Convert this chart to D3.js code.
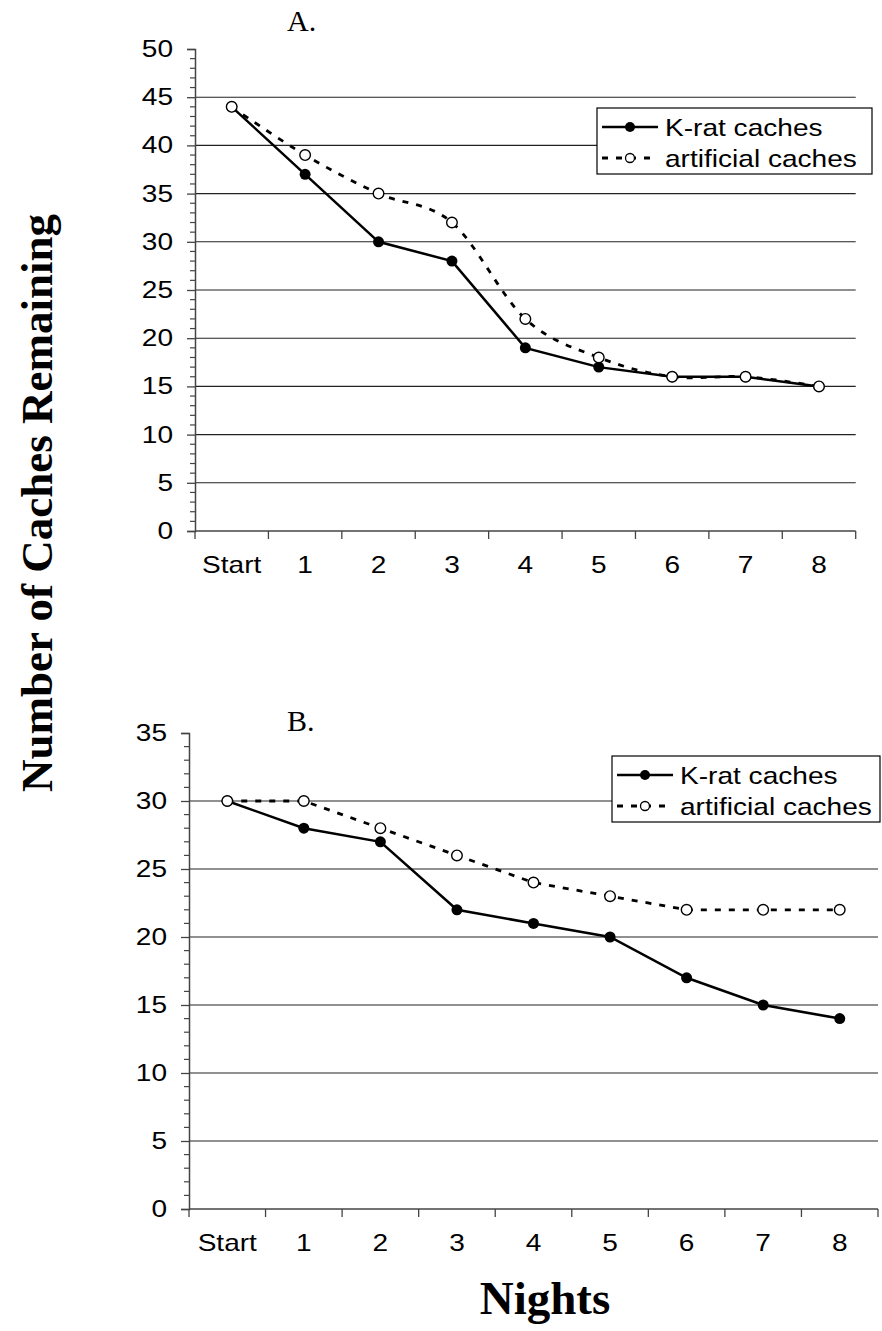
<!DOCTYPE html>
<html>
<head>
<meta charset="utf-8">
<script src="https://cdn.jsdelivr.net/npm/d3@7"></script>
<style>
  html, body { margin: 0; padding: 0; background: #fff; }
  svg { display: block; }
</style>
</head>
<body>
<svg id="chart" width="882" height="1331"></svg>
<script>
// ---------- DATA ----------
const categories = ["Start", "1", "2", "3", "4", "5", "6", "7", "8"];
const seriesNames = ["K-rat caches", "artificial caches"];

const kratA = [44, 37, 30, 28, 19, 17, 16, 16, 15];
const artificialA = [44, 39, 35, 32, 22, 18, 16, 16, 15];
const kratB = [30, 28, 27, 22, 21, 20, 17, 15, 14];
const artificialB = [30, 30, 28, 26, 24, 23, 22, 22, 22];

const yTicksA = [0, 5, 10, 15, 20, 25, 30, 35, 40, 45, 50];
const yTicksB = [0, 5, 10, 15, 20, 25, 30, 35];

const panelTitles = ["A.", "B."];
const yTitle = "Number of Caches Remaining";
const xTitle = "Nights";

// ---------- DRAW ----------
const svg = d3.select("#chart");
const SX = 1.22; // horizontal stretch of sans text in the original

function stretchedText(parent, x, y, str, size, anchor, sx) {
  const g = parent.append("g").attr("transform", `translate(${x},${y}) scale(${sx},1)`);
  g.append("text")
    .attr("x", 0).attr("y", 0)
    .attr("text-anchor", anchor)
    .attr("font-family", "Arial, 'Liberation Sans', sans-serif")
    .attr("font-size", size)
    .attr("fill", "#000")
    .text(str);
  return g;
}

function drawPanel(cfg) {
  const { left, right, top, bottom, yMax, yTicks, krat, artificial, smoothArtificial,
          title, titleX, titleY, legend } = cfg;
  const g = svg.append("g");

  const x = d3.scaleBand().domain(categories).range([left, right]).padding(0);
  const y = d3.scaleLinear().domain([0, yMax]).range([bottom, top]);

  // gridlines (major, excluding 0 and max)
  g.append("g").selectAll("line")
    .data(yTicks.filter(t => t > 0 && t < yMax))
    .join("line")
    .attr("x1", left).attr("x2", right)
    .attr("y1", d => y(d)).attr("y2", d => y(d))
    .attr("stroke", "#222").attr("stroke-width", 1.1);

  // y axis with major ticks
  const yAxis = d3.axisLeft(y).tickValues(yTicks).tickSize(8).tickFormat("");
  const ya = g.append("g").attr("transform", `translate(${left},0)`).call(yAxis);
  ya.select(".domain").attr("stroke", "#444").attr("stroke-width", 1.5);
  ya.selectAll(".tick line").attr("stroke", "#444").attr("stroke-width", 1.3);

  // minor ticks
  const minor = d3.range(0, yMax + 1).filter(v => !yTicks.includes(v));
  g.append("g").selectAll("line").data(minor).join("line")
    .attr("x1", left - 5).attr("x2", left)
    .attr("y1", d => y(d)).attr("y2", d => y(d))
    .attr("stroke", "#444").attr("stroke-width", 1.2);

  // y tick labels
  yTicks.forEach(t => {
    stretchedText(g, left - 22, y(t) + 8, String(t), 23, "end", SX);
  });

  // x axis
  const xa = g.append("g").attr("transform", `translate(0,${bottom})`);
  xa.append("line").attr("x1", left).attr("x2", right).attr("y1", 0).attr("y2", 0)
    .attr("stroke", "#444").attr("stroke-width", 1.5);
  const boundaries = categories.map(c => x(c)).concat([right]);
  xa.selectAll("line.tk").data(boundaries).join("line").attr("class", "tk")
    .attr("x1", d => d).attr("x2", d => d).attr("y1", 0).attr("y2", 8)
    .attr("stroke", "#444").attr("stroke-width", 1.3);
  categories.forEach(c => {
    stretchedText(g, x(c) + x.bandwidth() / 2, bottom + 42, c, 23, "middle", SX);
  });

  const cx = c => x(c) + x.bandwidth() / 2;

  // artificial (dashed)
  const artLine = d3.line()
    .x((d, i) => cx(categories[i])).y(d => y(d))
    .curve(smoothArtificial ? d3.curveCatmullRom.alpha(0) : d3.curveLinear);
  g.append("path").datum(artificial)
    .attr("d", artLine).attr("fill", "none")
    .attr("stroke", "#000").attr("stroke-width", 2.8)
    .attr("stroke-dasharray", "6,8");

  // krat (solid)
  const kLine = d3.line().x((d, i) => cx(categories[i])).y(d => y(d));
  g.append("path").datum(krat)
    .attr("d", kLine).attr("fill", "none")
    .attr("stroke", "#000").attr("stroke-width", 2.5);

  g.append("g").selectAll("circle").data(krat).join("circle")
    .attr("cx", (d, i) => cx(categories[i])).attr("cy", d => y(d))
    .attr("r", 5.5).attr("fill", "#000");

  g.append("g").selectAll("circle").data(artificial).join("circle")
    .attr("cx", (d, i) => cx(categories[i])).attr("cy", d => y(d))
    .attr("r", 5.3).attr("fill", "#fff").attr("stroke", "#000").attr("stroke-width", 1.4);

  // panel title
  g.append("text").attr("x", titleX).attr("y", titleY)
    .attr("font-family", "'Times New Roman', 'Liberation Serif', serif")
    .attr("font-size", 30).text(title);

  // legend
  const L = g.append("g").attr("transform", `translate(${legend.x},${legend.y})`);
  L.append("rect").attr("x", 0).attr("y", 0).attr("width", legend.w).attr("height", 66)
    .attr("fill", "#fff").attr("stroke", "#000").attr("stroke-width", 1.2);
  // row 1
  L.append("line").attr("x1", 5).attr("x2", 61).attr("y1", 19).attr("y2", 19)
    .attr("stroke", "#000").attr("stroke-width", 2.5);
  L.append("circle").attr("cx", 33).attr("cy", 19).attr("r", 5).attr("fill", "#000");
  stretchedText(L, 68, 28, seriesNames[0], 24, "start", 1.17);
  // row 2
  L.append("line").attr("x1", 5).attr("x2", 61).attr("y1", 50).attr("y2", 50)
    .attr("stroke", "#000").attr("stroke-width", 2.8).attr("stroke-dasharray", "6,8");
  L.append("circle").attr("cx", 33).attr("cy", 50).attr("r", 4.5)
    .attr("fill", "#fff").attr("stroke", "#000").attr("stroke-width", 1.3);
  stretchedText(L, 68, 59, seriesNames[1], 24, "start", 1.17);
}

drawPanel({
  left: 195, right: 855.7, top: 49, bottom: 531, yMax: 50, yTicks: yTicksA,
  krat: kratA, artificial: artificialA, smoothArtificial: true,
  title: panelTitles[0], titleX: 287, titleY: 31,
  legend: { x: 597, y: 108, w: 275 }
});

drawPanel({
  left: 189, right: 878, top: 733, bottom: 1209, yMax: 35, yTicks: yTicksB,
  krat: kratB, artificial: artificialB, smoothArtificial: false,
  title: panelTitles[1], titleX: 287, titleY: 731,
  legend: { x: 612, y: 756, w: 268 }
});

// axis titles
svg.append("text")
  .attr("transform", `translate(52,503) rotate(-90)`)
  .attr("text-anchor", "middle")
  .attr("font-family", "'Times New Roman', 'Liberation Serif', serif")
  .attr("font-weight", "bold").attr("font-size", 45)
  .text(yTitle);

svg.append("text")
  .attr("x", 545).attr("y", 1314)
  .attr("text-anchor", "middle")
  .attr("font-family", "'Times New Roman', 'Liberation Serif', serif")
  .attr("font-weight", "bold").attr("font-size", 47)
  .text(xTitle);
</script>
</body>
</html>
